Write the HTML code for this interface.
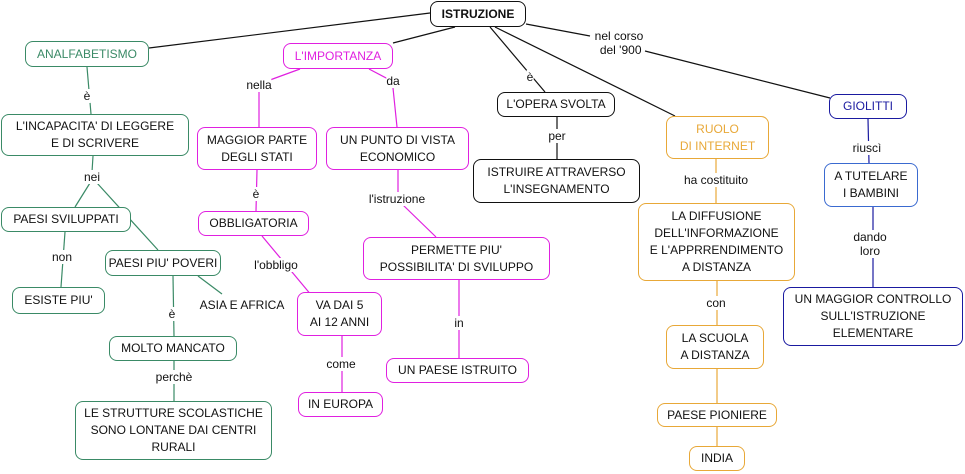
<!DOCTYPE html>
<html><head><meta charset="utf-8"><style>
body{margin:0;width:965px;height:474px;background:#fff;position:relative;overflow:hidden;font-family:"Liberation Sans","DejaVu Sans",sans-serif;}
.b{position:absolute;box-sizing:border-box;border:1px solid;border-radius:8px;background:#fff;display:flex;align-items:center;justify-content:center;text-align:center;font-size:12px;line-height:17px;color:#111;}
.l{position:absolute;font-size:12px;line-height:14px;color:#111;background:#fff;text-align:center;white-space:nowrap;transform:translate(-50%,-50%);}
.g{border-color:#3a8a66}.m{border-color:#e020e0}.o{border-color:#e8a838}.k{border-color:#111}.u{border-color:#1a1aa0}
svg{position:absolute;left:0;top:0}
</style></head><body>
<svg width="965" height="474" stroke-width="1.2" fill="none">
<g stroke="#111">
<line x1="430" y1="13" x2="149" y2="48"/>
<line x1="455" y1="27" x2="393" y2="43"/>
<line x1="490" y1="27" x2="545" y2="92"/>
<line x1="495" y1="27" x2="675" y2="116"/>
<line x1="526" y1="24" x2="590" y2="36"/>
<line x1="645" y1="51" x2="830" y2="98"/>
<line x1="557" y1="117" x2="557" y2="159"/>
</g>
<g stroke="#3a8a66">
<line x1="87" y1="67" x2="91" y2="114"/>
<line x1="93" y1="156" x2="92" y2="172"/>
<line x1="90" y1="183" x2="75" y2="207"/>
<line x1="97" y1="183" x2="158" y2="250"/>
<line x1="65" y1="232" x2="61" y2="287"/>
<line x1="198" y1="276" x2="222" y2="294"/>
<line x1="173" y1="276" x2="174" y2="336"/>
<line x1="174" y1="361" x2="174" y2="401"/>
</g>
<g stroke="#e020e0">
<line x1="300" y1="69" x2="259" y2="84"/>
<line x1="259" y1="90" x2="259" y2="127"/>
<line x1="369" y1="69" x2="390" y2="80"/>
<line x1="393" y1="88" x2="397" y2="127"/>
<line x1="257" y1="170" x2="256" y2="211"/>
<line x1="398" y1="170" x2="398" y2="195"/>
<line x1="403" y1="205" x2="436" y2="237"/>
<line x1="262" y1="236" x2="312" y2="296"/>
<line x1="342" y1="336" x2="342" y2="392"/>
<line x1="459" y1="280" x2="459" y2="358"/>
</g>
<g stroke="#e8a838">
<line x1="716" y1="159" x2="716" y2="203"/>
<line x1="717" y1="281" x2="717" y2="325"/>
<line x1="717" y1="369" x2="717" y2="403"/>
<line x1="717" y1="427" x2="717" y2="446"/>
</g>
<g stroke="#1a1aa0">
<line x1="868" y1="119" x2="869" y2="163"/>
<line x1="873" y1="207" x2="873" y2="287"/>
</g>
</svg>

<div class="b k" style="left:430px;top:1px;width:96px;height:26px;font-weight:bold">ISTRUZIONE</div>
<div class="b g" style="left:25px;top:41px;width:124px;height:26px;color:#3a8a66">ANALFABETISMO</div>
<div class="b m" style="left:283px;top:43px;width:110px;height:26px;color:#e020e0">L'IMPORTANZA</div>
<div class="b g" style="left:1px;top:114px;width:188px;height:42px">L'INCAPACITA' DI LEGGERE<br>E DI SCRIVERE</div>
<div class="b g" style="left:1px;top:207px;width:130px;height:25px">PAESI SVILUPPATI</div>
<div class="b g" style="left:105px;top:250px;width:116px;height:26px">PAESI PIU' POVERI</div>
<div class="b g" style="left:12px;top:287px;width:93px;height:27px">ESISTE PIU'</div>
<div class="b g" style="left:109px;top:336px;width:128px;height:25px">MOLTO MANCATO</div>
<div class="b g" style="left:75px;top:401px;width:197px;height:59px">LE STRUTTURE SCOLASTICHE<br>SONO LONTANE DAI CENTRI<br>RURALI</div>
<div class="b m" style="left:197px;top:127px;width:120px;height:43px">MAGGIOR PARTE<br>DEGLI STATI</div>
<div class="b m" style="left:326px;top:127px;width:143px;height:43px">UN PUNTO DI VISTA<br>ECONOMICO</div>
<div class="b m" style="left:198px;top:211px;width:111px;height:25px">OBBLIGATORIA</div>
<div class="b m" style="left:297px;top:292px;width:85px;height:44px">VA DAI 5<br>AI 12 ANNI</div>
<div class="b m" style="left:298px;top:392px;width:85px;height:25px">IN EUROPA</div>
<div class="b m" style="left:363px;top:237px;width:187px;height:43px">PERMETTE PIU'<br>POSSIBILITA' DI SVILUPPO</div>
<div class="b m" style="left:386px;top:358px;width:143px;height:25px">UN PAESE ISTRUITO</div>
<div class="b k" style="left:497px;top:92px;width:118px;height:25px">L'OPERA SVOLTA</div>
<div class="b k" style="left:473px;top:159px;width:167px;height:44px">ISTRUIRE ATTRAVERSO<br>L'INSEGNAMENTO</div>
<div class="b o" style="left:666px;top:116px;width:103px;height:43px;color:#e8a838">RUOLO<br>DI INTERNET</div>
<div class="b o" style="left:638px;top:203px;width:157px;height:78px">LA DIFFUSIONE<br>DELL'INFORMAZIONE<br>E L'APPRRENDIMENTO<br>A DISTANZA</div>
<div class="b o" style="left:666px;top:325px;width:98px;height:44px">LA SCUOLA<br>A DISTANZA</div>
<div class="b o" style="left:657px;top:403px;width:120px;height:24px">PAESE PIONIERE</div>
<div class="b o" style="left:689px;top:446px;width:56px;height:25px">INDIA</div>
<div class="b u" style="left:829px;top:94px;width:78px;height:25px;color:#1a1aa0">GIOLITTI</div>
<div class="b" style="left:824px;top:163px;width:94px;height:44px;border-color:#3a6ad0">A TUTELARE<br>I BAMBINI</div>
<div class="b u" style="left:783px;top:287px;width:180px;height:59px">UN MAGGIOR CONTROLLO<br>SULL'ISTRUZIONE<br>ELEMENTARE</div>

<div class="l" style="left:87px;top:96px">è</div>
<div class="l" style="left:92px;top:177px">nei</div>
<div class="l" style="left:62px;top:257px">non</div>
<div class="l" style="left:172px;top:314px">è</div>
<div class="l" style="left:242px;top:305px">ASIA E AFRICA</div>
<div class="l" style="left:174px;top:377px">perchè</div>
<div class="l" style="left:259px;top:85px">nella</div>
<div class="l" style="left:393px;top:81px">da</div>
<div class="l" style="left:256px;top:194px">è</div>
<div class="l" style="left:276px;top:265px">l'obbligo</div>
<div class="l" style="left:341px;top:364px">come</div>
<div class="l" style="left:397px;top:199px">l'istruzione</div>
<div class="l" style="left:459px;top:323px">in</div>
<div class="l" style="left:619px;top:43px;line-height:14px">nel corso<br>&nbsp;del '900</div>
<div class="l" style="left:530px;top:77px">è</div>
<div class="l" style="left:557px;top:136px">per</div>
<div class="l" style="left:716px;top:180px">ha costituito</div>
<div class="l" style="left:716px;top:303px">con</div>
<div class="l" style="left:867px;top:148px">riuscì</div>
<div class="l" style="left:870px;top:244px">dando<br>loro</div>
</body></html>
